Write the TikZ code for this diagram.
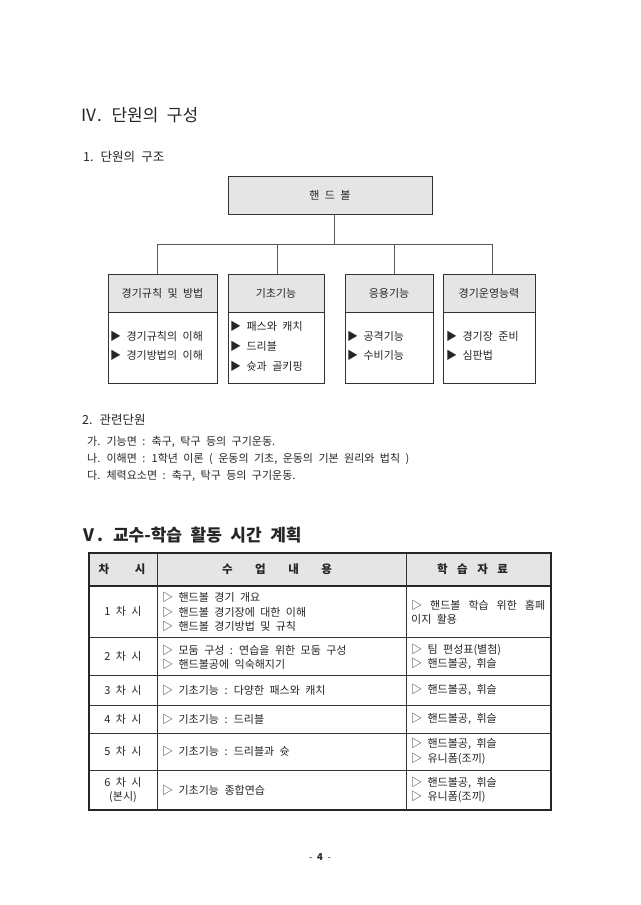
\documentclass[tikz,border=0pt]{standalone}
\usepackage{fontspec}
\setmainfont[WordSpace=2.2]{Noto Sans CJK KR}
\begin{document}
\begin{tikzpicture}[x=1pt,y=-1pt,
  txt/.style={inner sep=0pt, font=\fontsize{11}{13}\selectfont, text=black!85},
  big/.style={txt, font=\fontsize{17}{19}\selectfont, anchor=west},
  hdr/.style={draw=black!80, fill=black!10, line width=0.7pt, inner sep=0pt, font=\fontsize{11}{13}\selectfont, text=black!85},
  bodybox/.style={draw=black!80, fill=white, line width=0.7pt, inner sep=0pt},
  conn/.style={draw=black!65, line width=0.7pt},
  item/.style={txt, anchor=west},
  cell/.style={txt, align=left, anchor=west, font=\fontsize{11}{14.3}\selectfont},
  thin/.style={line width=0.6pt, draw=black!80},
  thick/.style={line width=1.5pt, draw=black!85},
]
\useasboundingbox (0,0) rectangle (640,905);
\fill[white] (0,0) rectangle (640,905);

% ---------- Section IV ----------
\node[big] (t4) at (80,115) {Ⅳ. 단원의 구성};
\node[txt, font=\fontsize{12.5}{14}\selectfont, anchor=west] (s1) at (83,157) {1. 단원의 구조};

\node[hdr, minimum width=204pt, minimum height=38pt] (top) at (330,195) {핸 드 볼};

% headers
\node[hdr, minimum width=109pt, minimum height=38pt] (h1) at (162.5,293) {경기규칙 및 방법};
\node[hdr, minimum width=96pt, minimum height=38pt] (h2) at (276,293) {기초기능};
\node[hdr, minimum width=88pt, minimum height=38pt] (h3) at (389,293) {응용기능};
\node[hdr, minimum width=92pt, minimum height=38pt] (h4) at (489,293) {경기운영능력};
% bodies
\node[bodybox, minimum width=109pt, minimum height=71pt, anchor=north] (b1) at (h1.south) {};
\node[bodybox, minimum width=96pt, minimum height=71pt, anchor=north] (b2) at (h2.south) {};
\node[bodybox, minimum width=88pt, minimum height=71pt, anchor=north] (b3) at (h3.south) {};
\node[bodybox, minimum width=92pt, minimum height=71pt, anchor=north] (b4) at (h4.south) {};

% connectors
\coordinate (bus) at (334,244);
\coordinate (d1) at (157,244);
\coordinate (d2) at (277,244);
\coordinate (d3) at (394,244);
\coordinate (d4) at (492,244);
\draw[conn] (top.south -| bus) -- (bus);
\draw[conn] (d1) -- (d4);
\draw[conn] (d1) -- (d1 |- h1.north);
\draw[conn] (d2) -- (d2 |- h2.north);
\draw[conn] (d3) -- (d3 |- h3.north);
\draw[conn] (d4) -- (d4 |- h4.north);

% items
\node[item] (i11) at (110,336) {▶ 경기규칙의 이해};
\node[item] (i12) at (110,355) {▶ 경기방법의 이해};
\node[item] (i21) at (230,326) {▶ 패스와 캐치};
\node[item] (i22) at (230,346) {▶ 드리블};
\node[item] (i23) at (230,366) {▶ 슛과 골키핑};
\node[item] (i31) at (347,336) {▶ 공격기능};
\node[item] (i32) at (347,355) {▶ 수비기능};
\node[item] (i41) at (446,336) {▶ 경기장 준비};
\node[item] (i42) at (446,355) {▶ 심판법};

% ---------- related units ----------
\node[txt, font=\fontsize{12.5}{14}\selectfont, anchor=west] (s2) at (82,420) {2. 관련단원};
\node[item] (r1) at (87,442) {가. 기능면 : 축구, 탁구 등의 구기운동.};
\node[item] (r2) at (87,459) {나. 이해면 : 1학년 이론 ( 운동의 기초, 운동의 기본 원리와 법칙 )};
\node[item] (r3) at (87,476) {다. 체력요소면 : 축구, 탁구 등의 구기운동.};

% ---------- Section V ----------
\node[big, font=\fontsize{17}{19}\selectfont\bfseries] (t5) at (80,535) {Ⅴ. 교수-학습 활동 시간 계획};

% table
\fill[black!10] (89,553) rectangle (551,586);
\draw[thin] (89,637) -- (551,637);
\draw[thin] (89,675) -- (551,675);
\draw[thin] (89,705) -- (551,705);
\draw[thin] (89,733) -- (551,733);
\draw[thin] (89,770) -- (551,770);
\draw[line width=1.1pt, draw=black!85] (89,586) -- (551,586);
\draw[thin] (157,553) -- (157,810);
\draw[thin] (406,553) -- (406,810);
\draw[thick] (89,553) rectangle (551,810);

% header
\node[txt, font=\fontsize{11.5}{13}\selectfont\bfseries] (c0) at (122,569.5) {\makebox[47pt][s]{차 시}};
\node[txt, font=\fontsize{11.5}{13}\selectfont\bfseries] (c1) at (277,569.5) {\makebox[110pt][s]{수 업 내 용}};
\node[txt, font=\fontsize{11.5}{13}\selectfont\bfseries] (c2) at (472.5,569.5) {\makebox[71pt][s]{학 습 자 료}};

% rows col1
\node[txt] (n1) at (123,611.5) {1 차 시};
\node[txt] (n2) at (123,656) {2 차 시};
\node[txt] (n3) at (123,690) {3 차 시};
\node[txt] (n4) at (123,719) {4 차 시};
\node[txt] (n5) at (123,751.5) {5 차 시};
\node[txt, align=center, font=\fontsize{11}{14}\selectfont] (n6) at (123,790) {6 차 시\\(본시)};

% col2
\node[cell] (m1) at (162,612) {▷ 핸드볼 경기 개요\\▷ 핸드볼 경기장에 대한 이해\\▷ 핸드볼 경기방법 및 규칙};
\node[cell] (m2) at (162,657) {▷ 모둠 구성 : 연습을 위한 모둠 구성\\▷ 핸드볼공에 익숙해지기};
\node[cell] (m3) at (162,690) {▷ 기초기능 : 다양한 패스와 캐치};
\node[cell] (m4) at (162,719) {▷ 기초기능 : 드리블};
\node[cell] (m5) at (162,751.5) {▷ 기초기능 : 드리블과 슛};
\node[cell] (m6) at (162,790) {▷ 기초기능 종합연습};

% col3
\node[cell] (k1) at (411,612) {\makebox[134pt][s]{▷ 핸드볼 학습 위한 홈페}\\이지 활용};
\node[cell] (k2) at (411,657) {▷ 팀 편성표(별첨)\\▷ 핸드볼공, 휘슬};
\node[cell] (k3) at (411,690) {▷ 핸드볼공, 휘슬};
\node[cell] (k4) at (411,719) {▷ 핸드볼공, 휘슬};
\node[cell] (k5) at (411,751.5) {▷ 핸드볼공, 휘슬\\▷ 유니폼(조끼)};
\node[cell] (k6) at (411,790) {▷ 핸드볼공, 휘슬\\▷ 유니폼(조끼)};

% page number
\node[txt, font=\fontsize{9.5}{11}\selectfont] (pg) at (320,857) {- \textbf{4} -};
\end{tikzpicture}
\end{document}
